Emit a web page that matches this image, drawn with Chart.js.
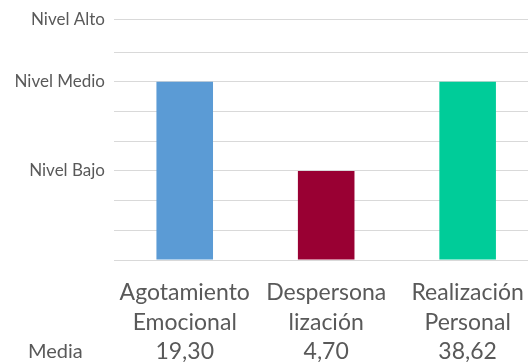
<!DOCTYPE html>
<html>
<head>
<meta charset="utf-8">
<script src="https://cdn.jsdelivr.net/npm/chart.js@4"></script>
<style>
  html, body { margin: 0; padding: 0; background: #fff; }
  #clip { width: 528px; height: 362px; overflow: hidden; position: relative; }
  #wrap { width: 542px; height: 362px; position: absolute; left: 0; top: 0; }
</style>
</head>
<body>
<div id="clip"><div id="wrap"><canvas id="c"></canvas></div></div>
<script>
// ---- data ----
const categories = [["Agotamiento", "Emocional"], ["Despersona", "lización"], ["Realización", "Personal"]];
const meanLabels = ["19,30", "4,70", "38,62"];
const levelValues = [6, 3, 6];
const barColors = ["#5B9BD5", "#990033", "#00CC99"];
const tickValues = [0, 1, 2, 3, 4, 5, 6, 7, 8.11];
const tickLabels = ["", "", "", "Nivel Bajo", "", "", "Nivel Medio", "", "Nivel Alto"];
const rowTitle = "Media";

const FONT = "Lato, 'Open Sans', sans-serif";
const TEXT = "#595959";
const X_LINE_H = 29.5;
const X_PAD = 18;

const xLabels = categories.map((c, i) => [...c, meanLabels[i]]);

const rowTitlePlugin = {
  id: 'rowTitle',
  afterDraw(chart) {
    const xs = chart.scales.x;
    const ctx = chart.ctx;
    ctx.save();
    ctx.font = "20px " + FONT;
    ctx.fillStyle = TEXT;
    ctx.textAlign = "left";
    ctx.textBaseline = "middle";
    ctx.fillText(rowTitle, 28, xs.top + X_PAD + X_LINE_H * 2.5);
    ctx.restore();
  }
};

new Chart(document.getElementById('c'), {
  type: 'bar',
  data: {
    labels: xLabels,
    datasets: [{
      data: levelValues,
      backgroundColor: barColors,
      borderWidth: 0,
      barPercentage: 0.4,
      categoryPercentage: 1
    }]
  },
  options: {
    responsive: true,
    maintainAspectRatio: false,
    animation: false,
    layout: { padding: { top: 19, right: 1, left: 0, bottom: 0 } },
    plugins: { legend: { display: false }, tooltip: { enabled: false } },
    scales: {
      x: {
        grid: { display: false, drawTicks: false },
        border: { display: false },
        ticks: {
          color: TEXT,
          font: { family: FONT, size: 23, lineHeight: X_LINE_H / 23 },
          padding: X_PAD,
          maxRotation: 0,
          autoSkip: false
        },
        afterFit(scale) { scale.height = 102; }
      },
      y: {
        min: 0,
        max: 8.11,
        afterBuildTicks(scale) { scale.ticks = tickValues.map(v => ({ value: v })); },
        grid: { color: "#D9D9D9", lineWidth: 1, drawTicks: false },
        border: { display: false },
        ticks: {
          color: TEXT,
          font: { family: FONT, size: 17 },
          padding: 9,
          callback(value) {
            const i = tickValues.indexOf(value);
            return i >= 0 ? tickLabels[i] : "";
          }
        },
        afterFit(scale) { scale.width = 114; }
      }
    }
  },
  plugins: [rowTitlePlugin]
});
</script>
</body>
</html>
